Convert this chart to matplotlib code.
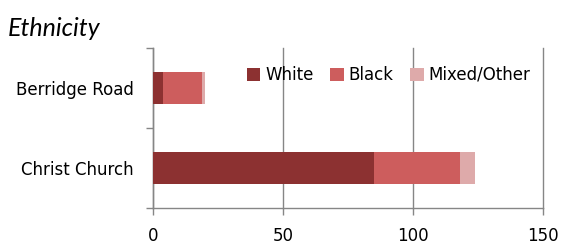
import matplotlib
matplotlib.use("Agg")
import matplotlib.pyplot as plt

categories = ["Christ Church", "Berridge Road"]
series_names = ["White", "Black", "Mixed/Other"]
white = [85, 4]
black = [33, 15]
mixed = [6, 1]
colors = ["#8C3131", "#CD5D5D", "#DEAAAA"]
xticks = [0, 50, 100, 150]

fig = plt.figure(figsize=(5.63, 2.45), dpi=100)
ax = fig.add_axes([0.2718, 0.151, 0.6927, 0.6543])

ypos = list(range(len(categories)))
left = [0] * len(categories)
for name, vals, c in zip(series_names, [white, black, mixed], colors):
    ax.barh(ypos, vals, left=left, height=0.4, color=c, label=name, zorder=3)
    left = [l + v for l, v in zip(left, vals)]

ax.set_xlim(0, 150)
ax.set_ylim(-0.5, len(categories) - 0.5)
ax.set_xticks(xticks)
ax.set_xticklabels([str(t) for t in xticks])
ax.set_yticks(ypos)
ax.set_yticklabels(categories)
ax.set_yticks([-0.5, 0.5, 1.5], minor=True)

gc = "#868686"
ax.grid(axis="x", color=gc, linewidth=1.0, zorder=0)
for gl in ax.get_xgridlines():
    gl.set_clip_on(False)
for s in ["top", "right"]:
    ax.spines[s].set_visible(False)
for s in ["left", "bottom"]:
    ax.spines[s].set_color(gc)
    ax.spines[s].set_linewidth(1.0)

ax.tick_params(axis="x", length=5, width=1.0, color=gc, pad=9, labelsize=12)
ax.tick_params(axis="y", which="major", length=0, pad=14, labelsize=12)
ax.tick_params(axis="y", which="minor", length=5, width=1.0, color=gc)

ax.legend(loc="center right", bbox_to_anchor=(0.985, 0.83), ncol=3, frameon=False,
          fontsize=12, handlelength=0.8, handleheight=0.8, handletextpad=0.3,
          columnspacing=1.0, borderaxespad=0)

fig.text(0.014, 0.885, "Ethnicity", fontsize=18, style="italic", family="Lato",
         va="center", ha="left")

fig.savefig("out.png", dpi=100)
